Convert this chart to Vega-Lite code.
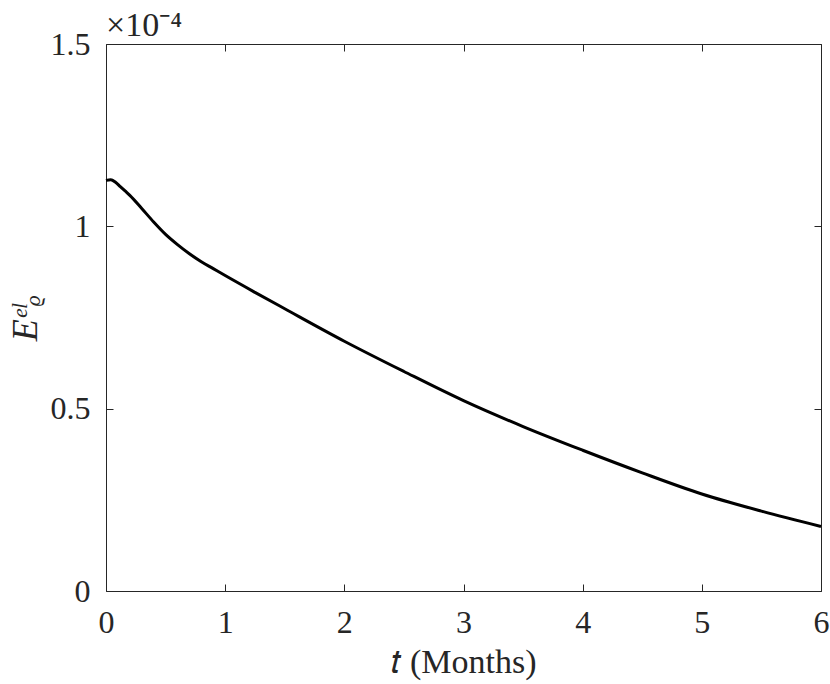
{
  "$schema": "https://vega.github.io/schema/vega-lite/v6.json",
  "width": 715,
  "height": 547,
  "autosize": "none",
  "padding": {"left": 106, "top": 44, "right": 9, "bottom": 93},
  "background": "white",
  "config": {
    "view": {"stroke": "#262626", "strokeWidth": 1},
    "font": "Liberation Serif",
    "axis": {
      "domain": false,
      "grid": false,
      "labelFlush": false,
      "tickColor": "#262626",
      "tickSize": -7,
      "labelFont": "Liberation Serif",
      "labelFontSize": 32,
      "labelColor": "#262626",
      "titleFont": "Liberation Serif",
      "titleFontSize": 34,
      "titleFontWeight": "normal",
      "titleColor": "#262626"
    }
  },
  "title": {
    "text": "×10⁻⁴",
    "anchor": "start",
    "frame": "group",
    "fontSize": 34,
    "fontWeight": "normal",
    "color": "#262626",
    "font": "Liberation Serif",
    "offset": 0,
    "dy": 15
  },
  "data": {
    "values": [
      {"t": 0, "E": 1.126},
      {"t": 0.04, "E": 1.128},
      {"t": 0.08, "E": 1.121},
      {"t": 0.12, "E": 1.109},
      {"t": 0.16, "E": 1.097},
      {"t": 0.2, "E": 1.085},
      {"t": 0.3, "E": 1.049},
      {"t": 0.4, "E": 1.012},
      {"t": 0.5, "E": 0.978},
      {"t": 0.6, "E": 0.950},
      {"t": 0.7, "E": 0.925},
      {"t": 0.8, "E": 0.903},
      {"t": 0.9, "E": 0.884},
      {"t": 1.0, "E": 0.865},
      {"t": 1.25, "E": 0.819},
      {"t": 1.5, "E": 0.774},
      {"t": 2.0, "E": 0.685},
      {"t": 2.5, "E": 0.602},
      {"t": 3.0, "E": 0.522},
      {"t": 3.5, "E": 0.451},
      {"t": 4.0, "E": 0.386},
      {"t": 4.5, "E": 0.324},
      {"t": 5.0, "E": 0.266},
      {"t": 5.5, "E": 0.219},
      {"t": 6.0, "E": 0.177}
    ]
  },
  "layer": [
    {
      "mark": {"type": "line", "color": "black", "strokeWidth": 3, "interpolate": "monotone"},
      "encoding": {
        "x": {
          "field": "t", "type": "quantitative",
          "scale": {"domain": [0, 6], "nice": false, "zero": false},
          "axis": {"values": [0, 1, 2, 3, 4, 5, 6], "format": "d", "title": "𝑡 (Months)", "labelPadding": 23, "titlePadding": 7}
        },
        "y": {
          "field": "E", "type": "quantitative",
          "scale": {"domain": [0, 1.5], "nice": false},
          "axis": {"values": [0, 0.5, 1, 1.5], "format": "~g", "title": "Eᵉˡᵨ", "titleFontStyle": "italic", "titleFontSize": 36, "labelPadding": 23, "titlePadding": 6}
        }
      }
    },
    {
      "mark": {"type": "line", "opacity": 0},
      "encoding": {
        "x": {
          "field": "t", "type": "quantitative",
          "scale": {"domain": [0, 6], "nice": false, "zero": false},
          "axis": {"orient": "top", "values": [0, 1, 2, 3, 4, 5, 6], "labels": false, "title": null, "minExtent": 0, "maxExtent": 0}
        },
        "y": {
          "field": "E", "type": "quantitative",
          "scale": {"domain": [0, 1.5], "nice": false},
          "axis": {"orient": "right", "values": [0, 0.5, 1, 1.5], "labels": false, "title": null, "minExtent": 0, "maxExtent": 0}
        }
      }
    }
  ],
  "resolve": {"axis": {"x": "independent", "y": "independent"}}
}
